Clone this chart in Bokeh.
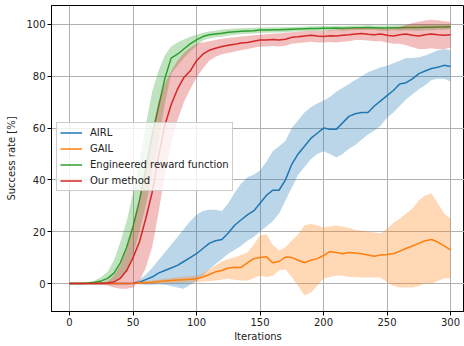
from bokeh.plotting import figure
from bokeh.models import Range1d, Legend, LegendItem, FixedTicker, ColumnDataSource
from bokeh.embed import file_html
from bokeh.resources import INLINE

iterations = [0, 5, 10, 15, 20, 25, 30, 35, 40, 45, 50, 55, 60, 65, 70, 75, 80, 85, 90, 95,
              100, 105, 110, 115, 120, 125, 130, 135, 140, 145, 150, 155, 160, 165, 170, 175,
              180, 185, 190, 195, 200, 205, 210, 215, 220, 225, 230, 235, 240, 245, 250, 255,
              260, 265, 270, 275, 280, 285, 290, 295, 300]

airl_mean = [0, 0, 0, 0, 0, 0, 0, 0, 0, 0, 0.1, 0.5, 1.5, 2.5, 4, 5, 6, 7, 8.5, 10,
             11.5, 13.5, 15.5, 16.5, 17, 19.5, 22.5, 24.5, 26.5, 28, 31, 34, 36, 36, 40, 46,
             50, 53, 56, 58, 60, 59.5, 59.5, 62, 64.5, 65.5, 66, 66, 68.5, 70.5, 72.5, 74.5,
             77, 77.5, 79, 81, 82, 83, 83.5, 84.2, 83.8]
airl_lower = [0, 0, 0, 0, 0, 0, 0, 0, 0, 0, 0, -0.3, -0.5, -0.5, -0.3, -0.5, -1, -1.5, -2, -0.5,
              1, 3, 5.5, 7.5, 9.5, 11.5, 13, 14.5, 16.5, 18, 20, 22, 24, 27, 32, 37,
              42, 45, 48, 50, 51, 50, 48.6, 50, 52, 53.5, 55.5, 57.5, 59, 61, 64, 66,
              68.5, 71, 73, 75, 76.5, 78.5, 79, 79, 78]
airl_upper = [0, 0, 0, 0, 0, 0, 0, 0, 0, 0, 0.3, 1.5, 3.5, 6, 9, 12, 15, 18, 21, 24,
              26.5, 28, 28.5, 28.5, 28, 31, 35, 38.5, 41, 42, 43.6, 47, 51, 53, 55, 60,
              63, 66, 68, 69.5, 70.5, 72, 74, 75.5, 77, 78.5, 80, 81.5, 82.5, 83.5, 84, 85,
              86, 87, 87, 87.3, 88, 89, 90, 90.5, 90]

gail_mean = [0, 0, 0, 0, 0, 0, 0, 0, 0, 0, 0, 0.2, 0.4, 0.5, 0.8, 1.0, 1.2, 1.4, 1.5, 1.6,
             1.8, 2.5, 3.5, 4.5, 5, 6, 6.3, 6.2, 8, 9.6, 10, 10.3, 8, 8.5, 10.2, 10,
             9, 8, 9, 9.6, 10.8, 12.3, 12, 11.5, 12, 11.8, 11.5, 11, 10.5, 11, 11.2, 11.5,
             12.5, 13.5, 14.5, 15.5, 16.5, 17, 16, 14.5, 13]
gail_lower = [-0.2, -0.2, -0.2, -0.2, -0.2, -0.2, -0.2, -0.2, -0.2, -0.2, -0.2, -0.3, -0.3, -0.2, 0, 0.1, 0.2, 0.3, 0.3, 0.4,
              0.5, 0.8, 1, 1.2, 1.5, 1.8, 1.5, 1.2, 1.2, 2, 3, 2.5, 3, 5, 5.5, 2.5,
              -1, -4.6, -3.5, -1, 1.9, 2.5, 3, 3, 2.5, 2.5, 2.3, 2.3, 2.3, 2.3, 0.5, -1,
              -1.5, -1.5, -1.5, -1, 0, 0, 1, 2, 2]
gail_upper = [0.2, 0.2, 0.2, 0.2, 0.2, 0.2, 0.2, 0.2, 0.2, 0.2, 0.2, 0.6, 1, 1.2, 1.5, 1.8, 2.1, 2.4, 2.6, 2.8,
              3, 4, 5.5, 7, 8.5, 9.5, 10, 11, 12, 15, 18.5, 19, 15, 12.7, 14, 16.6,
              19, 22.5, 23, 22.5, 21.6, 22, 22.4, 22, 21.5, 20.7, 20.5, 20, 19.7, 19.3, 21, 23.5,
              25, 27, 29, 32, 34, 34.7, 31, 27, 25]

eng_mean = [0, 0, 0, 0.2, 0.5, 1, 2, 4, 8, 14, 22, 32, 44, 57, 68, 79, 87, 88.5, 90.5, 92.5,
            94, 95.3, 96, 96.3, 96.6, 97, 97.2, 97.4, 97.5, 97.6, 97.8, 97.8, 97.9, 97.9, 98, 98.1,
            98.2, 98.3, 98.4, 98.4, 98.5, 98.5, 98.6, 98.5, 98.6, 98.7, 98.7, 98.8, 98.7, 98.6, 98.6, 98.7,
            98.7, 98.8, 98.8, 98.8, 98.9, 98.9, 99, 99, 99.1]
eng_lower = [-0.3, -0.3, -0.3, -0.2, 0, 0, 0, 0.5, 2, 5, 11, 20, 30, 42, 55, 69, 81, 84, 87, 89.5,
             91.8, 93.8, 94.6, 95, 95.2, 95.7, 96, 96.2, 96.4, 96.5, 96.8, 96.8, 96.9, 96.9, 97, 97.2,
             97.3, 97.4, 97.5, 97.5, 97.6, 97.6, 97.7, 97.6, 97.7, 97.8, 97.8, 97.9, 97.8, 97.6, 97.6, 97.7,
             97.6, 97.7, 97.6, 97.6, 97.7, 97.7, 97.9, 97.9, 98.1]
eng_upper = [0.3, 0.3, 0.3, 0.6, 1.2, 2.5, 4.5, 9, 16, 24, 35, 47, 61, 74, 82, 88, 91.5, 93, 94.2, 95.2,
             96, 96.8, 97.3, 97.6, 98, 98.2, 98.4, 98.5, 98.6, 98.7, 98.8, 98.8, 98.9, 98.9, 99, 99,
             99.1, 99.2, 99.3, 99.3, 99.4, 99.4, 99.5, 99.4, 99.5, 99.6, 99.6, 99.7, 99.6, 99.6, 99.6, 99.7,
             99.8, 99.9, 100, 100, 100.1, 100.1, 100.1, 100.1, 100.1]

ours_mean = [0, 0, 0, 0, 0, 0.1, 0.2, 0.6, 2, 5, 10, 16, 25, 35, 49, 61, 69, 75, 79.5, 82,
             86, 88.5, 90, 90.8, 91.5, 92, 92.3, 92.8, 93, 93.5, 94, 94, 94.2, 94, 94.3, 95,
             95.2, 95.5, 95.8, 95.5, 95.3, 95.6, 95.5, 95.8, 96, 96.3, 96.5, 96.2, 96, 96.3, 95.8, 95.5,
             96, 96.3, 95.8, 95.5, 96, 96.3, 96, 95.8, 96]
ours_lower = [-0.3, -0.3, -0.3, -0.3, -0.3, -0.5, -0.8, -1.5, -2, -2, -1.5, 1, 6, 14, 27, 42, 54, 63, 70, 75,
              79.5, 83, 86, 87.5, 88.5, 89, 89.5, 90, 90.5, 91, 91.5, 91.5, 91.7, 91.5, 91.8, 92.5,
              92.8, 93, 93.3, 93, 93, 93.2, 93, 93.3, 93.5, 94, 94, 93.8, 93.5, 93.5, 93, 92.5,
              92.5, 92, 91.2, 90.5, 90.5, 90.8, 90.5, 90.5, 91]
ours_upper = [0.3, 0.3, 0.3, 0.3, 0.3, 0.5, 1, 3, 7, 13, 22, 32, 46, 59, 70, 77, 82, 86, 89, 91,
              92.5, 93, 93.5, 94, 94.5, 94.8, 95, 95.3, 95.5, 95.8, 96, 96.2, 96.4, 96.5, 96.8, 97,
              97.2, 97.4, 97.6, 97.5, 97.5, 97.8, 98, 98.3, 98.5, 98.6, 98.8, 98.6, 98.5, 98.5, 98.3, 98.5,
              99, 99.8, 100.5, 101, 101.5, 101.8, 101.6, 101.2, 101]

series_names = ["AIRL", "GAIL", "Engineered reward function", "Our method"]
series_colors = ["#1f77b4", "#ff7f0e", "#2ca02c", "#d62728"]
x_ticks = [0, 50, 100, 150, 200, 250, 300]
y_ticks = [0, 20, 40, 60, 80, 100]

FONT = "DejaVu Sans"

p = figure(frame_width=413, frame_height=306, output_backend="svg", toolbar_location=None,
           x_range=Range1d(-14.2, 311.0), y_range=Range1d(-10.8, 107.3),
           min_border_left=51, min_border_right=0, min_border_top=5, min_border_bottom=35)

p.background_fill_color = "white"
p.border_fill_color = "white"
p.outline_line_color = "black"
p.outline_line_alpha = 1.0
p.outline_line_width = 1

for g in (p.xgrid, p.ygrid):
    g.grid_line_color = "#b0b0b0"
    g.grid_line_width = 1
    g.grid_line_alpha = 1.0

p.xaxis.ticker = FixedTicker(ticks=x_ticks)
p.yaxis.ticker = FixedTicker(ticks=y_ticks)
p.xaxis.axis_label = "Iterations"
p.yaxis.axis_label = "Success rate [%]"
for ax in (p.xaxis, p.yaxis):
    ax.axis_line_color = "black"
    ax.major_tick_line_color = "black"
    ax.major_tick_out = 4
    ax.major_tick_in = 0
    ax.minor_tick_line_color = None
    ax.major_label_text_font = FONT
    ax.major_label_text_font_size = "10px"
    ax.major_label_text_color = "#222222"
    ax.axis_label_text_font = FONT
    ax.axis_label_text_font_size = "10px"
    ax.axis_label_text_font_style = "normal"
    ax.axis_label_text_color = "#222222"
    ax.major_label_standoff = 2
p.xaxis.axis_label_standoff = 2
p.yaxis.axis_label_standoff = 6

means = [airl_mean, gail_mean, eng_mean, ours_mean]
lowers = [airl_lower, gail_lower, eng_lower, ours_lower]
uppers = [airl_upper, gail_upper, eng_upper, ours_upper]

items = []
for name, col, m, lo, up in zip(series_names, series_colors, means, lowers, uppers):
    src = ColumnDataSource(dict(x=iterations, m=m, lo=lo, up=up))
    p.varea(x="x", y1="lo", y2="up", source=src, fill_color=col, fill_alpha=0.3)
    r = p.line(x="x", y="m", source=src, line_color=col, line_width=1.5)
    items.append(LegendItem(label=name, renderers=[r]))

legend = Legend(items=items, location=(5, 120))
legend.label_text_font = FONT
legend.label_text_font_size = "10px"
legend.label_text_color = "#222222"
legend.glyph_width = 22
legend.glyph_height = 13
legend.label_height = 13
legend.spacing = 3
legend.padding = 3
legend.margin = 0
legend.label_standoff = 8
legend.border_line_color = "#cccccc"
legend.border_line_alpha = 1.0
legend.background_fill_color = "white"
legend.background_fill_alpha = 0.8
p.add_layout(legend, "center")

open("out.html", "w").write(file_html(p, INLINE))
